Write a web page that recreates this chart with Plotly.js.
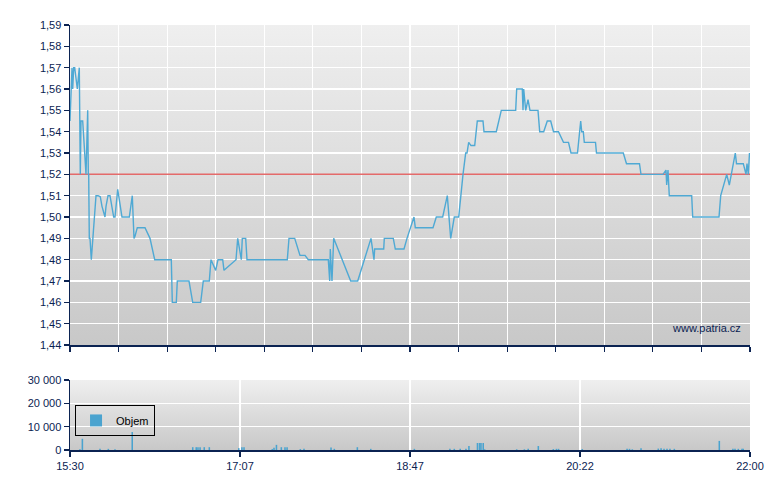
<!DOCTYPE html>
<html>
<head>
<meta charset="utf-8">
<script src="https://cdn.plot.ly/plotly-3.0.1.min.js"></script>
<style>
html,body{margin:0;padding:0;background:#fff;}
#chart{width:780px;height:490px;}
</style>
</head>
<body>
<div id="chart"></div>
<script>
// minutes after 15:30
const priceMinutes = [0,1.15,1.55,2.12,2.7,4.19,5.33,5.91,6.31,7.28,9.18,9.75,10.15,10.5,10.72,11.07,11.47,12.22,14.91,16.06,17.38,18.35,20.07,20.65,21.79,22.94,25.06,25.81,27.36,29.82,34.01,35.73,36.71,37.28,38.6,43.01,45.88,48.58,58.1,58.67,60.97,61.54,68.25,70.37,74.96,76.45,79.89,80.87,83.56,84.88,87.58,88.32,95.21,96.18,98.25,98.82,100.77,101.51,116.26,124.63,125.6,128.87,131.91,134.78,136.67,148.14,148.95,149.29,150.26,151.24,160.99,165.01,172.63,174.35,174.75,179.92,180.26,185.42,186.57,191.56,193.28,197.29,198.04,208.19,210.08,213.75,216.39,218.34,220.4,222.93,225.4,226.94,227.69,228.66,229.98,232.11,233.6,236.87,237.44,244.49,247.36,255.62,256.19,259.4,259.81,260.21,261.36,262.68,263.82,268.41,269.38,271.68,273.74,275.69,277.3,280.16,283.03,285.9,287.34,291.06,292.9,293.47,294.39,294.96,301.39,301.96,317.33,319.17,326.62,327.49,340.1,341.82,342.22,342.97,343.71,356.56,357.14,372.22,373.2,376.64,378.13,381.57,382.26,386.16,387.71,388.28,389.03,389.71];
const prices = [1.545,1.57,1.56,1.57,1.57,1.56,1.57,1.52,1.545,1.545,1.52,1.55,1.55,1.52,1.52,1.49,1.49,1.48,1.51,1.51,1.5095,1.505,1.50,1.505,1.51,1.51,1.50,1.50,1.513,1.50,1.50,1.51,1.49,1.491,1.495,1.495,1.49,1.48,1.48,1.46,1.46,1.47,1.47,1.46,1.46,1.47,1.47,1.48,1.475,1.48,1.48,1.475,1.48,1.49,1.48,1.49,1.49,1.48,1.48,1.48,1.49,1.49,1.482,1.482,1.48,1.48,1.47,1.485,1.47,1.49,1.47,1.47,1.49,1.48,1.485,1.485,1.49,1.49,1.485,1.485,1.49,1.50,1.495,1.495,1.50,1.50,1.51,1.49,1.50,1.50,1.52,1.53,1.53,1.535,1.5335,1.5335,1.545,1.545,1.54,1.54,1.55,1.55,1.56,1.56,1.55,1.56,1.55,1.555,1.55,1.55,1.54,1.54,1.545,1.545,1.54,1.54,1.535,1.535,1.53,1.53,1.545,1.54,1.54,1.535,1.535,1.53,1.53,1.525,1.525,1.52,1.52,1.522,1.515,1.522,1.51,1.51,1.50,1.50,1.51,1.52,1.515,1.53,1.525,1.525,1.52,1.525,1.52,1.53];

const prevClose = 1.52;
const sessionStart = 0, sessionEnd = 390;

const volMinutes = [5.7,7.1,17.2,22.0,25.8,35.7,70.4,72.4,73.4,74.6,77.0,79.9,96.8,98.6,99.8,116.0,117.0,118.4,121.2,123.3,124.5,132.1,134.2,149.7,151.6,164.8,172.5,197.5,217.9,220.4,223.8,227.1,228.8,233.7,234.9,235.7,237.0,237.8,256.2,260.6,262.8,268.6,277.2,279.0,280.2,293.8,319.5,320.9,322.5,327.5,337.4,339.0,340.7,342.4,344.1,346.6,372.4,380.2,381.4,383.3,385.4,386.1];
const volumes = [300,4800,500,500,300,7700,1200,1200,1200,1200,1200,1200,800,1200,1200,400,1000,2200,1200,1200,1200,400,500,1100,500,1200,500,500,500,500,500,500,1700,3000,3000,3000,3000,300,300,300,500,1700,400,500,500,400,500,500,300,800,600,800,500,500,500,500,3900,500,500,500,500,500];

const timeTickVals = [0, 97.5, 195, 292.5, 390];
const timeTickText = ['15:30', '17:07', '18:47', '20:22', '22:00'];

const navy = '#0b2352';
const mainDomain = [0.247, 1];
const volDomain = [0, 0.1647];

function gradSvg(top, bottom) {
  const s = '<svg xmlns="http://www.w3.org/2000/svg" width="10" height="100" preserveAspectRatio="none">' +
    '<defs><linearGradient id="g" x1="0" y1="0" x2="0" y2="1">' +
    '<stop offset="0" stop-color="' + top + '"/><stop offset="1" stop-color="' + bottom + '"/>' +
    '</linearGradient></defs><rect width="10" height="100" fill="url(#g)"/></svg>';
  return 'data:image/svg+xml;charset=utf-8,' + encodeURIComponent(s);
}

const traces = [
  {
    x: [sessionStart, sessionEnd], y: [prevClose, prevClose],
    type: 'scatter', mode: 'lines', xaxis: 'x', yaxis: 'y',
    line: {color: '#e46a6a', width: 1.5}, showlegend: false, hoverinfo: 'skip'
  },
  {
    x: priceMinutes, y: prices,
    type: 'scatter', mode: 'lines', xaxis: 'x', yaxis: 'y',
    line: {color: '#4fa9d4', width: 1.4}, showlegend: false, hoverinfo: 'skip'
  },
  {
    x: volMinutes, y: volumes, name: 'Objem',
    type: 'bar', xaxis: 'x2', yaxis: 'y2', width: 0.9,
    marker: {color: '#4aa3cf', line: {width: 0}}, showlegend: true, hoverinfo: 'skip'
  }
];

const mainTicks = [];
for (let i = 0; i <= 14; i++) mainTicks.push(sessionStart + (sessionEnd - sessionStart) * i / 14);

const axisCommon = {
  showline: true, linecolor: navy, linewidth: 1.5,
  ticks: 'outside', ticklen: 5, tickcolor: navy, tickwidth: 1.2,
  gridcolor: '#ffffff', gridwidth: 1.2, zeroline: false,
  tickfont: {family: 'Liberation Sans, Arial, sans-serif', size: 11, color: navy}
};

const layout = {
  width: 780, height: 490,
  margin: {l: 70, r: 30, t: 25, b: 40},
  paper_bgcolor: '#ffffff',
  plot_bgcolor: 'rgba(0,0,0,0)',
  separators: ', ',
  font: {family: 'Liberation Sans, Arial, sans-serif', size: 11, color: navy},
  xaxis: Object.assign({}, axisCommon, {
    domain: [0, 1], anchor: 'y', range: [sessionStart, sessionEnd],
    tickmode: 'array', tickvals: mainTicks, showticklabels: false
  }),
  yaxis: Object.assign({}, axisCommon, {
    domain: mainDomain, anchor: 'x', range: [1.44, 1.59],
    tickmode: 'linear', tick0: 1.44, dtick: 0.01, tickformat: '.2f'
  }),
  xaxis2: Object.assign({}, axisCommon, {
    domain: [0, 1], anchor: 'y2', range: [sessionStart, sessionEnd],
    tickmode: 'array', tickvals: timeTickVals, ticktext: timeTickText
  }),
  yaxis2: Object.assign({}, axisCommon, {
    domain: volDomain, anchor: 'x2', range: [0, 30000],
    tickmode: 'linear', tick0: 0, dtick: 10000, tickformat: ',d'
  }),
  showlegend: true,
  legend: {
    x: 0.0074, y: 0.106, xanchor: 'left', yanchor: 'top',
    bgcolor: 'rgba(0,0,0,0)', bordercolor: '#000000', borderwidth: 1,
    itemwidth: 30,
    font: {family: 'Liberation Sans, Arial, sans-serif', size: 11, color: '#000000'}
  },
  images: [
    {source: gradSvg('#efefef', '#c8c8c8'), xref: 'paper', yref: 'paper',
     x: 0, y: mainDomain[1], sizex: 1, sizey: mainDomain[1] - mainDomain[0],
     xanchor: 'left', yanchor: 'top', sizing: 'stretch', layer: 'below'},
    {source: gradSvg('#efefef', '#c8c8c8'), xref: 'paper', yref: 'paper',
     x: 0, y: volDomain[1], sizex: 1, sizey: volDomain[1] - volDomain[0],
     xanchor: 'left', yanchor: 'top', sizing: 'stretch', layer: 'below'}
  ],
  annotations: [
    {text: 'www.patria.cz', xref: 'paper', yref: 'paper', x: 0.99, y: mainDomain[0] + 0.04,
     xanchor: 'right', yanchor: 'middle', showarrow: false,
     font: {family: 'Liberation Sans, Arial, sans-serif', size: 11, color: navy}}
  ]
};

Plotly.newPlot('chart', traces, layout, {displayModeBar: false, staticPlot: true});
</script>
</body>
</html>
